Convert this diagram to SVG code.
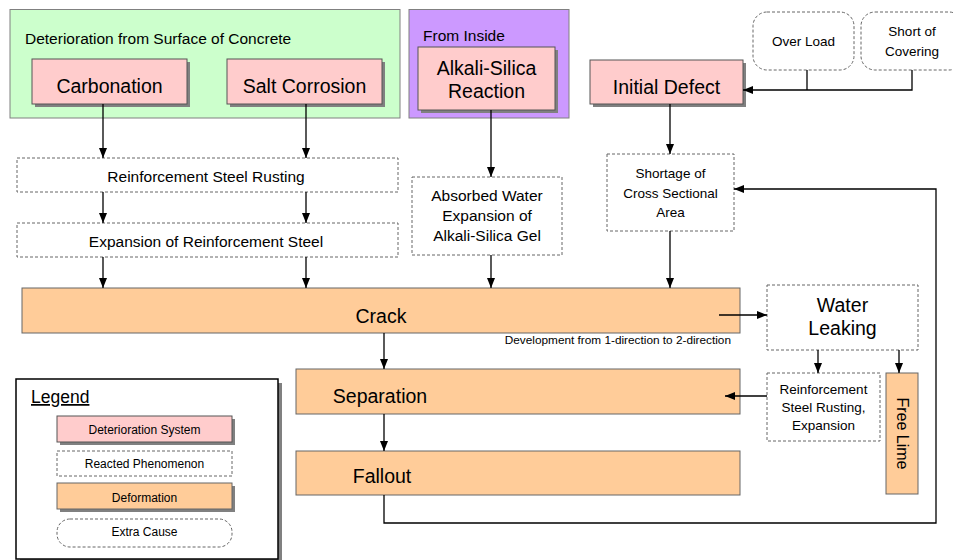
<svg xmlns="http://www.w3.org/2000/svg" width="953" height="560" viewBox="0 0 953 560">
  <defs>
    <marker id="ah" viewBox="0 0 10 8" refX="10" refY="4" markerWidth="10" markerHeight="8" markerUnits="userSpaceOnUse" orient="auto">
      <path d="M0,0 L10,4 L0,8 z" fill="#000"/>
    </marker>
    <style>
      text { font-family: "Liberation Sans", Arial, sans-serif; fill: #000; }
      .mid { text-anchor: middle; }
      .shadow { fill: #808080; }
      .pink { fill: #FFCCCC; stroke: #555; stroke-width: 1; }
      .orange { fill: #FFCC99; stroke: #666; stroke-width: 1; }
      .green { fill: #CCFFCC; stroke: #808080; stroke-width: 1; }
      .purple { fill: #CC99FF; stroke: #808080; stroke-width: 1; }
      .dash { fill: #fff; stroke: #666; stroke-width: 1; stroke-dasharray: 3 2; }
      .conn { fill: none; stroke: #000; stroke-width: 1.3; }
      .big { font-size: 19.5px; }
      .med { font-size: 15.5px; }
      .sm { font-size: 13.5px; }
      .xs { font-size: 11.8px; }
      .lg { font-size: 12px; }
    </style>
  </defs>

  <rect x="0" y="0" width="953" height="560" fill="#fff"/>

  <!-- surface deterioration group -->
  <g id="surface-group">
    <rect class="green" x="10" y="9.5" width="390" height="108.5"/>
    <text class="med" x="25" y="44">Deterioration from Surface of Concrete</text>
  </g>
  <g id="carbonation">
    <rect class="shadow" x="35" y="62" width="155" height="45"/>
    <rect class="pink" x="32" y="59" width="155" height="45"/>
    <text class="big mid" x="109.5" y="93">Carbonation</text>
  </g>
  <g id="salt-corrosion">
    <rect class="shadow" x="230" y="62" width="155" height="45"/>
    <rect class="pink" x="227" y="59" width="155" height="45"/>
    <text class="big mid" x="304.5" y="93">Salt Corrosion</text>
  </g>

  <!-- inside deterioration group -->
  <g id="inside-group">
    <rect class="purple" x="409" y="9.5" width="160" height="108.5"/>
    <text class="med" x="423" y="41">From Inside</text>
  </g>
  <g id="asr">
    <rect class="shadow" x="421" y="50" width="137" height="63"/>
    <rect class="pink" x="418" y="47" width="137" height="63"/>
    <text class="big mid" x="486.5" y="75">Alkali-Silica</text>
    <text class="big mid" x="486.5" y="98">Reaction</text>
  </g>

  <g id="initial-defect">
    <rect class="shadow" x="593" y="63" width="153" height="44"/>
    <rect class="pink" x="590" y="60" width="153" height="44"/>
    <text class="big mid" x="666.5" y="94">Initial Defect</text>
  </g>

  <g id="over-load">
    <rect class="dash" x="753" y="12" width="101" height="58" rx="14" ry="14"/>
    <text class="sm mid" x="803.5" y="46">Over Load</text>
  </g>
  <g id="short-of-covering">
    <rect class="dash" x="861" y="12" width="102" height="58" rx="14" ry="14"/>
    <text class="sm mid" x="912" y="36">Short of</text>
    <text class="sm mid" x="912" y="56">Covering</text>
  </g>

  <g id="steel-rusting">
    <rect class="dash" x="17" y="158" width="381" height="34"/>
    <text class="med mid" x="206" y="182">Reinforcement Steel Rusting</text>
  </g>
  <g id="steel-expansion">
    <rect class="dash" x="17" y="223" width="381" height="34"/>
    <text class="med mid" x="206" y="247">Expansion of Reinforcement Steel</text>
  </g>

  <g id="gel-expansion">
    <rect class="dash" x="412" y="177" width="150" height="78"/>
    <text class="med mid" x="487" y="201">Absorbed Water</text>
    <text class="med mid" x="487" y="221">Expansion of</text>
    <text class="med mid" x="487" y="241">Alkali-Silica Gel</text>
  </g>

  <g id="cross-section">
    <rect class="dash" x="607" y="154" width="127" height="77"/>
    <text class="sm mid" x="670.5" y="178">Shortage of</text>
    <text class="sm mid" x="670.5" y="198">Cross Sectional</text>
    <text class="sm mid" x="670.5" y="217">Area</text>
  </g>

  <g id="crack">
    <rect class="orange" x="22" y="288" width="718" height="45"/>
    <text class="big mid" x="381" y="323">Crack</text>
    <text class="xs" x="731" y="344" text-anchor="end">Development from 1-direction to 2-direction</text>
  </g>

  <g id="water-leaking">
    <rect class="dash" x="767" y="285" width="151" height="65"/>
    <text class="big mid" x="842.5" y="312">Water</text>
    <text class="big mid" x="842.5" y="335">Leaking</text>
  </g>

  <g id="separation">
    <rect class="orange" x="296" y="369" width="444" height="45"/>
    <text class="big mid" x="380" y="403">Separation</text>
  </g>

  <g id="rust-expansion">
    <rect class="dash" x="767" y="373" width="113" height="68"/>
    <text class="sm mid" x="823.5" y="394">Reinforcement</text>
    <text class="sm mid" x="823.5" y="412">Steel Rusting,</text>
    <text class="sm mid" x="823.5" y="430">Expansion</text>
  </g>

  <g id="free-lime">
    <rect class="orange" x="886" y="373" width="32" height="121"/>
    <text class="mid" font-size="16" transform="translate(897,433.5) rotate(90)">Free Lime</text>
  </g>

  <g id="fallout">
    <rect class="orange" x="296" y="451" width="444" height="44"/>
    <text class="big mid" x="382" y="483">Fallout</text>
  </g>

  <!-- legend -->
  <g id="legend">
    <rect class="shadow" x="20" y="383" width="262" height="180"/>
    <rect x="16" y="379" width="262" height="180" fill="#fff" stroke="#000" stroke-width="1.5"/>
    <text font-size="17.5" x="31" y="403" text-decoration="underline">Legend</text>
    <rect class="shadow" x="60" y="419" width="175" height="26"/>
    <rect class="pink" x="57" y="416" width="175" height="26"/>
    <text class="lg mid" x="144.5" y="434">Deterioration System</text>
    <rect class="dash" x="57" y="451" width="175" height="25"/>
    <text class="lg mid" x="144.5" y="468">Reacted Phenomenon</text>
    <rect class="shadow" x="60" y="486" width="175" height="26"/>
    <rect class="orange" x="57" y="483" width="175" height="26"/>
    <text class="lg mid" x="144.5" y="502">Deformation</text>
    <rect class="dash" x="57" y="519" width="175" height="28" rx="13" ry="13"/>
    <text class="lg mid" x="144.5" y="536">Extra Cause</text>
  </g>

  <!-- connectors -->
  <g id="connectors">
    <path class="conn" d="M103,104 V158" marker-end="url(#ah)"/>
    <path class="conn" d="M306,104 V158" marker-end="url(#ah)"/>
    <path class="conn" d="M103,192 V223" marker-end="url(#ah)"/>
    <path class="conn" d="M306,192 V223" marker-end="url(#ah)"/>
    <path class="conn" d="M103,257 V288" marker-end="url(#ah)"/>
    <path class="conn" d="M306,257 V288" marker-end="url(#ah)"/>
    <path class="conn" d="M491,110 V177" marker-end="url(#ah)"/>
    <path class="conn" d="M491,255 V288" marker-end="url(#ah)"/>
    <path class="conn" d="M670,104 V154" marker-end="url(#ah)"/>
    <path class="conn" d="M670,231 V288" marker-end="url(#ah)"/>
    <path class="conn" d="M807,70 V90"/>
    <path class="conn" d="M912,70 V90 H743" marker-end="url(#ah)"/>
    <path class="conn" d="M719,315 H767" marker-end="url(#ah)"/>
    <path class="conn" d="M384,333 V369" marker-end="url(#ah)"/>
    <path class="conn" d="M384,414 V451" marker-end="url(#ah)"/>
    <path class="conn" d="M818,350 V373" marker-end="url(#ah)"/>
    <path class="conn" d="M899,350 V373" marker-end="url(#ah)"/>
    <path class="conn" d="M767,396 H725" marker-end="url(#ah)"/>
    <path class="conn" d="M384,495 V523 H936 V189 H734" marker-end="url(#ah)"/>
  </g>
</svg>
